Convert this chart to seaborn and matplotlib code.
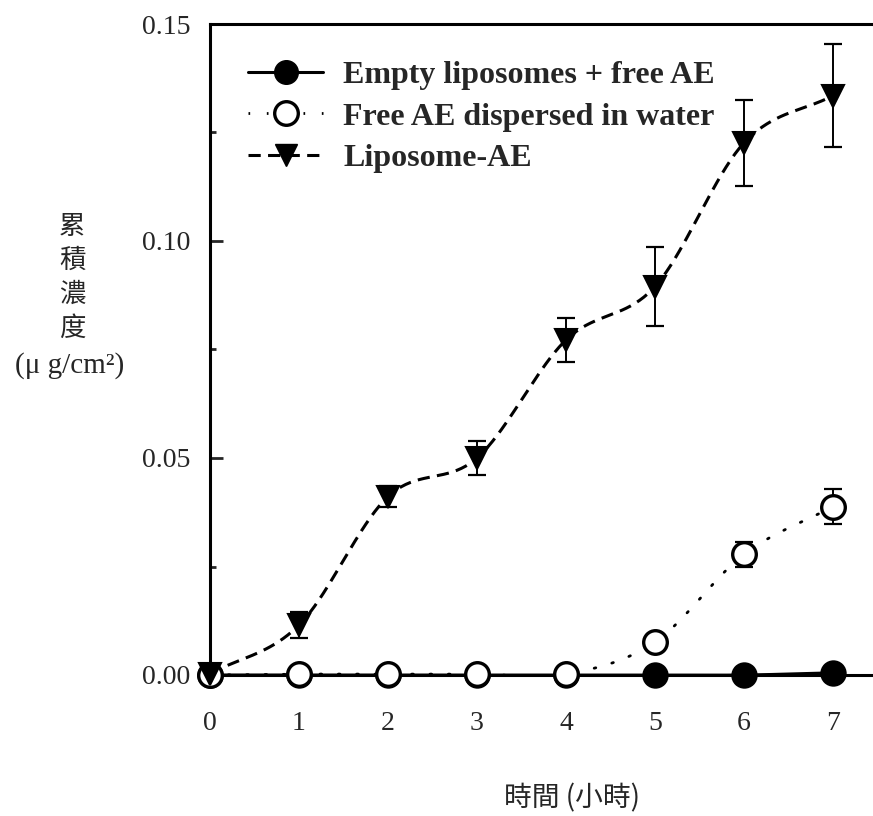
import numpy as np
import matplotlib
matplotlib.use("Agg")
import matplotlib.pyplot as plt
from matplotlib.lines import Line2D
from matplotlib.ticker import MultipleLocator
import seaborn as sns

# Cumulative permeated concentration (ug/cm^2) over time (hours)
hours = [0, 1, 2, 3, 4, 5, 6, 7]
empty_lipo_free_ae = [0.0, 0.0, 0.0, 0.0, 0.0, 0.0, 0.0, 0.0005]
free_ae_water = [0.0, 0.0002, 0.0002, 0.0002, 0.0002, 0.0076, 0.0278, 0.0388]
free_ae_water_err = [0, 0, 0, 0, 0, 0, 0.0029, 0.0040]
liposome_ae = [0.0003, 0.0115, 0.0411, 0.0500, 0.0772, 0.0895, 0.1226, 0.1335]
liposome_ae_err = [0, 0.0030, 0.0024, 0.0039, 0.0050, 0.0091, 0.0099, 0.0119]

series_labels = ["Empty liposomes + free AE", "Free AE dispersed in water", "Liposome-AE"]
x_tick_labels = ["0", "1", "2", "3", "4", "5", "6", "7"]
y_ticks = [0.00, 0.05, 0.10, 0.15]
y_label_chars = "累積濃度"
y_label_unit = "(μ g/cm²)"
x_label = "時間 (小時)"


def smooth(x, y, n=40):
    """Cubic Hermite curve through the points (finite-difference tangents)."""
    x = np.asarray(x, float)
    y = np.asarray(y, float)
    m = np.gradient(y, x)
    xs, ys = [], []
    for i in range(len(x) - 1):
        h = x[i + 1] - x[i]
        t = np.linspace(0, 1, n, endpoint=(i == len(x) - 2))
        h00 = 2 * t**3 - 3 * t**2 + 1
        h10 = t**3 - 2 * t**2 + t
        h01 = -2 * t**3 + 3 * t**2
        h11 = t**3 - t**2
        xs.append(x[i] + t * h)
        ys.append(h00 * y[i] + h10 * h * m[i] + h01 * y[i + 1] + h11 * h * m[i + 1])
    return np.concatenate(xs), np.concatenate(ys)


sns.set_style("ticks")
plt.rcParams["font.family"] = ["Liberation Serif", "DejaVu Serif"]

W, H = 873, 816
fig = plt.figure(figsize=(W / 100, H / 100), dpi=100)
ax = fig.add_axes([210 / W, 1 - 675 / H, 1 - 210 / W, (675 - 24) / H])
ax.set_xlim(0, 7.45)
ax.set_ylim(0, 0.15)

lw_line = 2.2
dash_style = (0, (4.0, 2.4))
dot_style = (0, (0.6, 6.0))

# Free AE in water (dotted, lowest layer)
fx, fy = smooth(hours, free_ae_water)
sns.lineplot(x=fx, y=fy, ax=ax, sort=False, estimator=None, color="black",
             lw=2.0, linestyle=dot_style, dash_capstyle="round", zorder=2)
# Empty liposomes + free AE (solid)
ex, ey = smooth(hours, empty_lipo_free_ae)
sns.lineplot(x=ex, y=ey, ax=ax, sort=False, estimator=None, color="black",
             lw=lw_line, zorder=3, clip_on=False)
# Liposome-AE (dashed)
lx, ly = smooth(hours, liposome_ae)
sns.lineplot(x=lx, y=ly, ax=ax, sort=False, estimator=None, color="black",
             lw=lw_line, linestyle=dash_style, zorder=4)

# error bars
ax.errorbar(hours, free_ae_water, yerr=free_ae_water_err, fmt="none",
            ecolor="black", elinewidth=1.4, capsize=6.5, capthick=1.6, zorder=5)
ax.errorbar(hours, liposome_ae, yerr=liposome_ae_err, fmt="none",
            ecolor="black", elinewidth=1.4, capsize=6.5, capthick=1.6, zorder=5, clip_on=False)

# markers
ax.plot(hours, empty_lipo_free_ae, ls="none", marker="o", ms=17, mfc="black",
        mec="black", mew=2.0, zorder=6, clip_on=False)
ax.plot(hours, free_ae_water, ls="none", marker="o", ms=17, mfc="white",
        mec="black", mew=2.4, zorder=7, clip_on=False)
ax.plot(hours, liposome_ae, ls="none", marker="v", ms=16.5, mfc="black",
        mec="black", mew=1.5, zorder=8, clip_on=False)

# axes styling
for side in ("left", "bottom", "top"):
    ax.spines[side].set_linewidth(2.2)
    ax.spines[side].set_color("black")
ax.spines["right"].set_visible(False)

ax.set_xticks(hours)
ax.set_xticklabels(x_tick_labels)
ax.set_yticks(y_ticks)
ax.set_yticklabels([f"{v:.2f}" for v in y_ticks])
ax.yaxis.set_minor_locator(MultipleLocator(0.025))
ax.tick_params(axis="x", length=0, pad=26, labelsize=20)
ax.tick_params(axis="y", which="major", direction="in", length=9.5, width=2.0,
               pad=14, labelsize=20)
ax.tick_params(axis="y", which="minor", direction="in", length=4.5, width=2.0)
ax.set_xlabel("")
ax.set_ylabel("")

# legend
handles = [
    Line2D([], [], color="black", lw=lw_line, marker="o", ms=17, mfc="black", mec="black"),
    Line2D([], [], color="black", lw=2.0, linestyle=dot_style, marker="o", ms=17,
           mfc="white", mec="black", mew=2.4),
    Line2D([], [], color="black", lw=lw_line, linestyle=dash_style, marker="v", ms=16.5,
           mfc="black", mec="black"),
]
ax.legend(handles, series_labels, loc="upper left",
          bbox_to_anchor=(248 / W, 1 - 61 / H), bbox_transform=fig.transFigure,
          frameon=False, borderpad=0, borderaxespad=0, handlelength=2.35,
          handletextpad=0.63, labelspacing=0.37,
          prop={"family": "Liberation Serif", "weight": "bold", "size": 23})

# vertical y-axis title
cjk = ["Noto Sans CJK TC", "DejaVu Sans"]
for i, ch in enumerate(y_label_chars):
    fig.text(72 / W, 1 - (226 + i * 34) / H, ch, ha="center", va="center",
             fontsize=19, family=cjk)
fig.text(70 / W, 1 - 366 / H, y_label_unit, ha="center", va="center",
         fontsize=21, family=["Liberation Serif", "DejaVu Serif"])

fig.text(572 / W, 1 - 798 / H, x_label, ha="center", va="center",
         fontsize=20, family=cjk)

fig.savefig("out.png", dpi=100)
